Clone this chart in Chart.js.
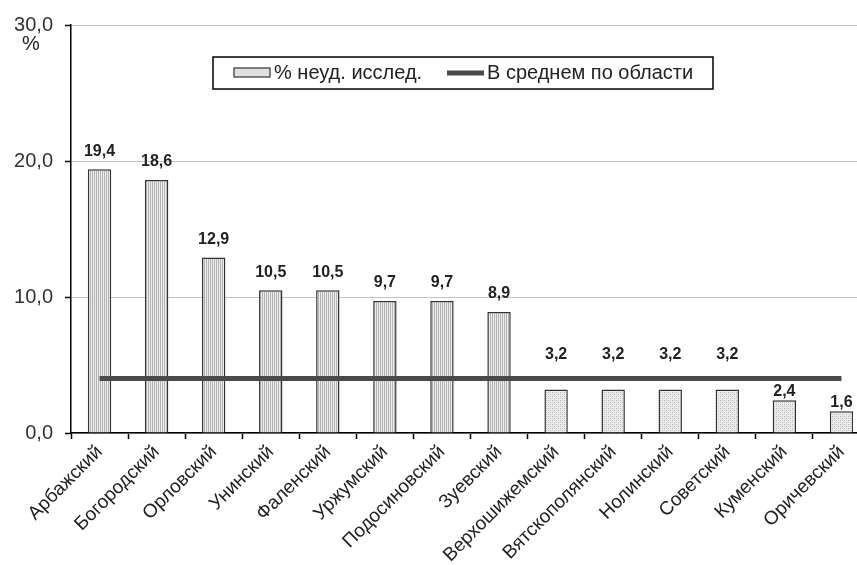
<!DOCTYPE html>
<html>
<head>
<meta charset="utf-8">
<script src="https://cdn.jsdelivr.net/npm/chart.js@4/dist/chart.umd.min.js"></script>
<style>
  html, body { margin: 0; padding: 0; background: #fff; overflow: hidden; }
  #wrap { width: 857px; height: 565px; overflow: hidden; }
  canvas { display: block; }
</style>
</head>
<body>
<div id="wrap"><canvas id="c" width="872" height="565"></canvas></div>
<script>
const districts = ['Арбажский', 'Богородский', 'Орловский', 'Унинский', 'Фаленский', 'Уржумский',
  'Подосиновский', 'Зуевский', 'Верхошижемский', 'Вятскополянский', 'Нолинский', 'Советский',
  'Куменский', 'Оричевский'];
const failedPct = [19.4, 18.6, 12.9, 10.5, 10.5, 9.7, 9.7, 8.9, 3.2, 3.2, 3.2, 3.2, 2.4, 1.6];
const regionAvg = [4.0, 4.0, 4.0, 4.0, 4.0, 4.0, 4.0, 4.0, 4.0, 4.0, 4.0, 4.0, 4.0, 4.0];
const yTicks = [0, 10, 20, 30];
const STRIPED_COUNT = 8;

const FONT = 'Arial, "Liberation Sans", sans-serif';
const fmt = v => v.toFixed(1).replace('.', ',');

// штриховка столбцов
function makePattern(kind) {
  const p = document.createElement('canvas');
  p.width = 4; p.height = 4;
  const g = p.getContext('2d');
  g.fillStyle = '#ececec';
  g.fillRect(0, 0, 4, 4);
  g.fillStyle = '#b4b4b4';
  if (kind === 'stripes') {
    g.fillRect(0, 0, 1, 4);
    g.fillRect(2, 0, 1, 4);
  } else {
    g.fillRect(0, 0, 1, 1);
    g.fillRect(2, 2, 1, 1);
    g.fillStyle = '#d0d0d0';
    g.fillRect(2, 0, 1, 1);
    g.fillRect(0, 2, 1, 1);
  }
  return g.createPattern(p, 'repeat');
}
const ctx = document.getElementById('c').getContext('2d');
const stripes = makePattern('stripes');
const dots = makePattern('dots');

// подписи значений над столбцами
const valueLabels = {
  id: 'valueLabels',
  afterDatasetsDraw(chart) {
    const c = chart.ctx;
    const bars = chart.getDatasetMeta(0).data;
    const y = chart.scales.y;
    c.save();
    c.font = 'bold 16px ' + FONT;
    c.fillStyle = '#222';
    c.textAlign = 'center';
    c.textBaseline = 'middle';
    bars.forEach((bar, i) => {
      const lineY = y.getPixelForValue(regionAvg[i]);
      let cy;
      if (bar.y < lineY) {
        cy = bar.y - 18;
      } else {
        cy = bar.y - 9;
        if (cy - 7 < lineY + 3) cy = lineY - 24;
      }
      c.fillText(fmt(failedPct[i]), bar.x, cy);
    });
    c.restore();
  }
};

// легенда в рамке и знак % у оси
const boxLegend = {
  id: 'boxLegend',
  afterDraw(chart) {
    const c = chart.ctx;
    const ds = chart.data.datasets;
    c.save();
    c.fillStyle = '#fff';
    c.fillRect(213, 57, 500, 32);
    c.strokeStyle = '#000';
    c.lineWidth = 1.5;
    c.strokeRect(213, 57, 500, 32);

    c.fillStyle = '#e0e0e0';
    c.fillRect(234, 68, 36, 9);
    c.strokeStyle = '#333';
    c.lineWidth = 1.2;
    c.strokeRect(234, 68, 36, 9);

    c.font = '20px ' + FONT;
    c.fillStyle = '#222';
    c.textBaseline = 'middle';
    c.fillText(ds[0].label, 274, 73);

    c.strokeStyle = '#4a4a4a';
    c.lineWidth = 5;
    c.beginPath();
    c.moveTo(447, 73);
    c.lineTo(484, 73);
    c.stroke();
    c.fillText(ds[1].label, 487, 73);

    c.textAlign = 'center';
    c.fillText('%', 31, 44);
    c.restore();
  }
};

new Chart(ctx, {
  data: {
    labels: districts,
    datasets: [
      {
        type: 'bar',
        label: '% неуд. исслед.',
        data: failedPct,
        backgroundColor: c => c.dataIndex < STRIPED_COUNT ? stripes : dots,
        borderColor: '#333',
        borderWidth: 1.5,
        borderSkipped: 'bottom',
        barPercentage: 0.41,
        categoryPercentage: 1.0,
        order: 2
      },
      {
        type: 'line',
        label: 'В среднем по области',
        data: regionAvg,
        borderColor: '#4a4a4a',
        borderWidth: 5,
        pointRadius: 0,
        tension: 0,
        order: 1
      }
    ]
  },
  options: {
    responsive: false,
    animation: false,
    layout: { padding: { top: 25, right: 2, left: 0, bottom: 0 } },
    plugins: {
      legend: { display: false },
      tooltip: { enabled: false }
    },
    scales: {
      x: {
        offset: true,
        grid: {
          display: true,
          offset: true,
          drawOnChartArea: false,
          tickLength: 6,
          tickColor: '#000',
          tickWidth: 1.5
        },
        border: { color: '#000', width: 1.5 },
        ticks: {
          autoSkip: false,
          maxRotation: 45,
          minRotation: 45,
          color: '#222',
          padding: 2,
          font: { family: FONT, size: 19 }
        },
        afterFit(scale) { scale.height = 132; }
      },
      y: {
        min: 0,
        max: 30,
        afterBuildTicks(scale) { scale.ticks = yTicks.map(v => ({ value: v })); },
        grid: {
          color: '#c4c4c4',
          lineWidth: 1,
          tickLength: 6,
          tickColor: '#000',
          tickWidth: 1.5
        },
        border: { color: '#000', width: 1.5 },
        ticks: {
          color: '#333',
          padding: 12,
          font: { family: FONT, size: 20 },
          callback: v => fmt(v)
        },
        afterFit(scale) { scale.width = 71; }
      }
    }
  },
  plugins: [valueLabels, boxLegend]
});
</script>
</body>
</html>
